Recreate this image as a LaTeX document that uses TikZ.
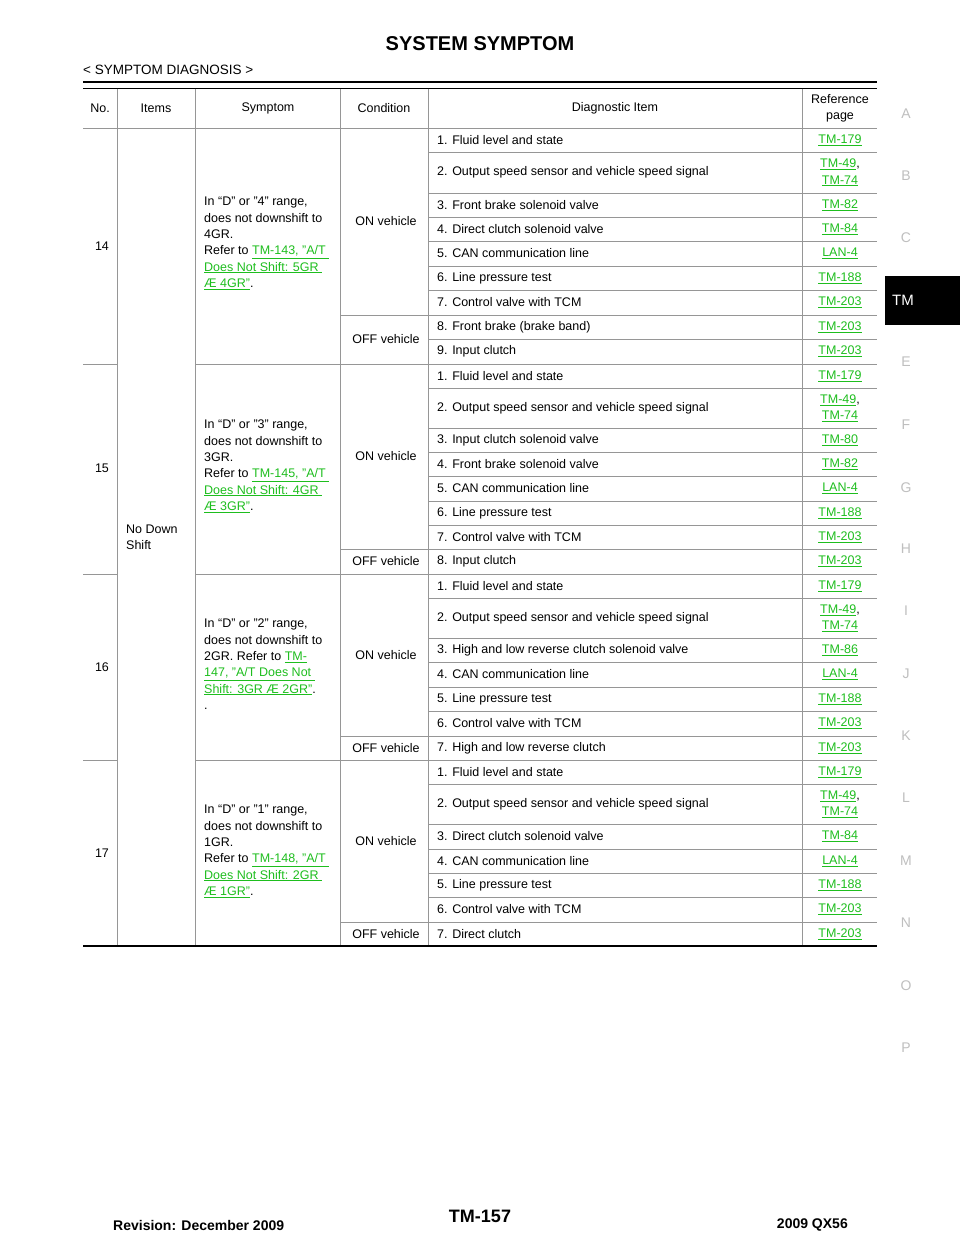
\documentclass[tikz,border=0pt]{standalone}
\usepackage{fontspec}
\setmainfont{Liberation Sans}
\definecolor{lnk}{RGB}{30,190,30}
\definecolor{grid}{RGB}{150,150,150}
\newcommand{\lk}[1]{{\color{lnk}\underline{#1}}}
\newcommand{\itm}[4]{%
 \node[txt,anchor=west] (d#1) at (437,{(#1+#2)/2}) {#3};
 \node[txt,align=center] (r#1) at (840,{(#1+#2)/2}) {#4};
 \draw[thin line] (428,#2) -- (877,#2);}
\begin{document}
\begin{tikzpicture}[x=1pt,y=-1pt,
 txt/.style={inner sep=0pt,font=\fontsize{12.5}{16.3}\selectfont},
 thin line/.style={draw=grid,line width=0.9pt},
 side/.style={inner sep=0pt,text=black!25,font=\fontsize{14}{16}\selectfont}]
\useasboundingbox (0,0) rectangle (960,1242);
\fill[white] (0,0) rectangle (960,1242);
% header
\node[inner sep=0pt,font=\fontsize{20}{22}\selectfont\bfseries] (title) at (480,44) {SYSTEM SYMPTOM};
\node[inner sep=0pt,anchor=west,font=\fontsize{13.5}{16}\selectfont] (sub) at (83,70) {< SYMPTOM DIAGNOSIS >};
\draw[line width=2.2pt] (83,82) -- (877,82);
\draw[line width=1.4pt] (83,88.5) -- (877,88.5);
% side tab
\fill[black] (885,276) rectangle (960,325);
\node[inner sep=0pt,text=white,font=\fontsize{15}{16}\selectfont] (tm) at (903,300) {TM};
\foreach \l/\yy in {A/114,B/176,C/238,E/362,F/425,G/488,H/549,I/611,J/674,K/736,L/798,M/861,N/923,O/986,P/1048}
  \node[side] (s\l) at (906,\yy) {\l};
% header row
\node[txt] (h1) at (100,108) {No.};
\node[txt] (h2) at (156,108) {Items};
\node[txt] (h3) at (268,108) {Symptom};
\node[txt] (h4) at (384,108) {Condition};
\node[txt] (h5) at (615,108) {Diagnostic Item};
\node[txt,align=center] (h6) at (840,108) {Reference\\page};
\draw[thin line] (83,128) -- (877,128);
% verticals
\foreach \xx in {117,195,340,428,802}
  \draw[thin line] (\xx,88.5) -- (\xx,946);
% group separators
\foreach \yy in {364,574,760}{
  \draw[thin line] (83,\yy) -- (117,\yy);
  \draw[thin line] (195,\yy) -- (877,\yy);}
\foreach \yy in {315,549,736,922}
  \draw[thin line] (340,\yy) -- (877,\yy);
% No / items
\node[txt] (n14) at (102,246) {14};
\node[txt] (n15) at (102,468) {15};
\node[txt] (n16) at (102,667) {16};
\node[txt] (n17) at (102,853) {17};
\node[txt,anchor=west,align=left] (it) at (126,537) {No Down\\Shift};
% symptoms
\node[txt,anchor=north west,align=left] (sy14) at (204,197) {In “D” or "4" range,\\does not downshift to\\4GR.\\Refer to \lk{TM-143, "A/T }\\\lk{Does Not Shift: 5GR }\\\lk{Æ 4GR"}.};
\node[txt,anchor=north west,align=left] (sy15) at (204,420) {In “D” or "3" range,\\does not downshift to\\3GR.\\Refer to \lk{TM-145, "A/T }\\\lk{Does Not Shift: 4GR }\\\lk{Æ 3GR"}.};
\node[txt,anchor=north west,align=left] (sy16) at (204,619) {In “D” or "2" range,\\does not downshift to\\2GR. Refer to \lk{TM-}\\\lk{147, "A/T Does Not }\\\lk{Shift: 3GR Æ 2GR"}.\\.};
\node[txt,anchor=north west,align=left] (sy17) at (204,805) {In “D” or "1" range,\\does not downshift to\\1GR.\\Refer to \lk{TM-148, "A/T }\\\lk{Does Not Shift: 2GR }\\\lk{Æ 1GR"}.};
% conditions
\node[txt] (c14a) at (386,221) {ON vehicle};
\node[txt] (c14b) at (386,339) {OFF vehicle};
\node[txt] (c15a) at (386,456) {ON vehicle};
\node[txt] (c15b) at (386,561) {OFF vehicle};
\node[txt] (c16a) at (386,655) {ON vehicle};
\node[txt] (c16b) at (386,748) {OFF vehicle};
\node[txt] (c17a) at (386,841) {ON vehicle};
\node[txt] (c17b) at (386,934) {OFF vehicle};
% row 14
\itm{128}{152}{1. Fluid level and state}{\lk{TM-179}}
\itm{152}{193}{2. Output speed sensor and vehicle speed signal}{\lk{TM-49},\\\lk{TM-74}}
\itm{193}{217}{3. Front brake solenoid valve}{\lk{TM-82}}
\itm{217}{241}{4. Direct clutch solenoid valve}{\lk{TM-84}}
\itm{241}{266}{5. CAN communication line}{\lk{LAN-4}}
\itm{266}{290}{6. Line pressure test}{\lk{TM-188}}
\itm{290}{315}{7. Control valve with TCM}{\lk{TM-203}}
\itm{315}{339}{8. Front brake (brake band)}{\lk{TM-203}}
\itm{339}{364}{9. Input clutch}{\lk{TM-203}}
% row 15
\itm{364}{388}{1. Fluid level and state}{\lk{TM-179}}
\itm{388}{428}{2. Output speed sensor and vehicle speed signal}{\lk{TM-49},\\\lk{TM-74}}
\itm{428}{452}{3. Input clutch solenoid valve}{\lk{TM-80}}
\itm{452}{476}{4. Front brake solenoid valve}{\lk{TM-82}}
\itm{476}{501}{5. CAN communication line}{\lk{LAN-4}}
\itm{501}{525}{6. Line pressure test}{\lk{TM-188}}
\itm{525}{549}{7. Control valve with TCM}{\lk{TM-203}}
\itm{549}{574}{8. Input clutch}{\lk{TM-203}}
% row 16
\itm{574}{598}{1. Fluid level and state}{\lk{TM-179}}
\itm{598}{638}{2. Output speed sensor and vehicle speed signal}{\lk{TM-49},\\\lk{TM-74}}
\itm{638}{662}{3. High and low reverse clutch solenoid valve}{\lk{TM-86}}
\itm{662}{687}{4. CAN communication line}{\lk{LAN-4}}
\itm{687}{711}{5. Line pressure test}{\lk{TM-188}}
\itm{711}{736}{6. Control valve with TCM}{\lk{TM-203}}
\itm{736}{760}{7. High and low reverse clutch}{\lk{TM-203}}
% row 17
\itm{760}{784}{1. Fluid level and state}{\lk{TM-179}}
\itm{784}{824}{2. Output speed sensor and vehicle speed signal}{\lk{TM-49},\\\lk{TM-74}}
\itm{824}{849}{3. Direct clutch solenoid valve}{\lk{TM-84}}
\itm{849}{873}{4. CAN communication line}{\lk{LAN-4}}
\itm{873}{897}{5. Line pressure test}{\lk{TM-188}}
\itm{897}{922}{6. Control valve with TCM}{\lk{TM-203}}
\itm{922}{946}{7. Direct clutch}{\lk{TM-203}}
\draw[line width=2pt] (83,946) -- (877,946);
% footer
\node[inner sep=0pt,font=\fontsize{18}{20}\selectfont\bfseries] (pg) at (480,1216) {TM-157};
\node[inner sep=0pt,anchor=west,font=\fontsize{14}{16}\selectfont\bfseries] (rev) at (113,1225) {Revision: December 2009};
\node[inner sep=0pt,anchor=east,font=\fontsize{14}{16}\selectfont\bfseries] (mdl) at (848,1225) {2009 QX56};
\end{tikzpicture}
\end{document}
